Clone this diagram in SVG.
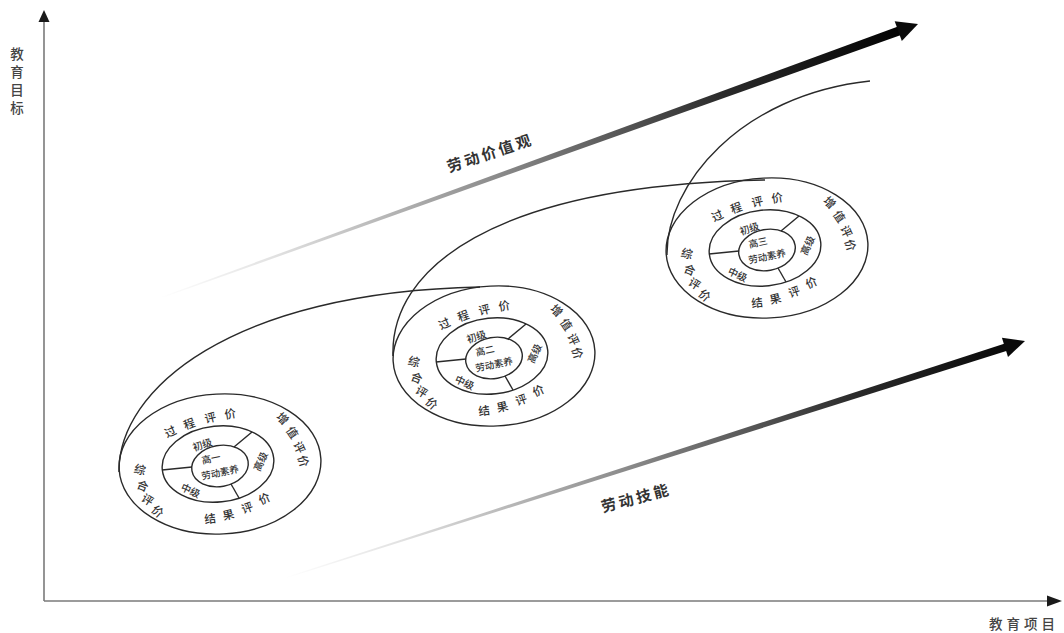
<svg xmlns="http://www.w3.org/2000/svg" width="1064" height="633" viewBox="0 0 1064 633">
<defs>
<linearGradient id="ag" gradientUnits="userSpaceOnUse" x1="0" y1="0" x2="800" y2="0">
<stop offset="0" stop-color="#ffffff"/>
<stop offset="0.15" stop-color="#e2e2e2"/>
<stop offset="0.45" stop-color="#8a8a8a"/>
<stop offset="0.75" stop-color="#2a2a2a"/>
<stop offset="1" stop-color="#000000"/>
</linearGradient>
</defs>
<style>
.ln{fill:none;stroke:#2a2a2a;stroke-width:1.4}
.ax{stroke:#7a7a7a;stroke-width:1.6;fill:none}
.t{font-family:"Noto Sans CJK SC","Noto Sans",sans-serif;fill:#333;text-anchor:middle;dominant-baseline:central;font-weight:500}
.r{font-size:11.5px}
.m{font-size:10px}
.i{font-size:9.5px}
.big{font-size:15px;fill:#333;letter-spacing:3px;font-weight:600}
.axl{font-size:13.5px;fill:#444}
</style>
<rect width="1064" height="633" fill="#ffffff"/>

<g id="axes">
<line class="ax" x1="44" y1="22" x2="44" y2="601"/>
<polygon points="44,10 38.5,22 49.5,22" fill="#1a1a1a"/>
<line class="ax" x1="44" y1="601" x2="1048" y2="601"/>
<polygon points="1062,601 1047,595.5 1047,606.5" fill="#1a1a1a"/>
<text class="t axl" x="17" y="53">教</text>
<text class="t axl" x="17" y="71">育</text>
<text class="t axl" x="17" y="89">目</text>
<text class="t axl" x="17" y="107">标</text>
<text class="t axl" x="1024" y="623" style="letter-spacing:4px">教育项目</text>
</g>

<g id="arrow-values">
<g transform="translate(160,298) rotate(-19.87)">
<polygon fill="url(#ag)" points="0,-0.6 790,-4.5 790,4.5 0,0.6"/>
<polygon fill="#0a0a0a" points="785,-10.5 806,0 785,10.5"/>
</g>
<text class="t big" x="490" y="152" transform="rotate(-18.5 490 152)">劳动价值观</text>
</g>

<g id="arrow-skills">
<g transform="translate(285,578) rotate(-17.76)">
<polygon fill="url(#ag)" points="0,-0.5 762,-3.8 762,3.8 0,0.5"/>
<polygon fill="#0a0a0a" points="756,-10 777,0 756,10"/>
</g>
<text class="t big" x="636" y="497" transform="rotate(-15 636 497)">劳动技能</text>
</g>

<g id="connectors">
<path class="ln" d="M119,472 C118,390 230,292 480,287"/>
<path class="ln" d="M393,356 C390,270 490,185 765,180"/>
<path class="ln" d="M667,255 C666,185 740,95 870,81"/>
</g>

<g id="grade1" transform="translate(220,464)">
<ellipse class="ln" cx="0" cy="0" rx="101" ry="70" transform="rotate(-3)"/>
<ellipse class="ln" cx="-2" cy="0" rx="56" ry="38" transform="rotate(-6 -2 0)"/>
<ellipse class="ln" cx="0" cy="2" rx="28.5" ry="20.5" transform="rotate(-10 0 2)"/>
<line class="ln" x1="-58" y1="6" x2="-28" y2="3"/>
<line class="ln" x1="32" y1="-32" x2="14" y2="-17"/>
<line class="ln" x1="11" y1="20" x2="19" y2="34"/>
<text class="t r" x="-50" y="-33" transform="rotate(-25 -50 -33)">过</text>
<text class="t r" x="-31" y="-41" transform="rotate(-20 -31 -41)">程</text>
<text class="t r" x="-10" y="-47" transform="rotate(-14 -10 -47)">评</text>
<text class="t r" x="10" y="-51" transform="rotate(-10 10 -51)">价</text>
<text class="t r" x="63" y="-46" transform="rotate(45 63 -46)">增</text>
<text class="t r" x="73" y="-32" transform="rotate(55 73 -32)">值</text>
<text class="t r" x="80" y="-17" transform="rotate(65 80 -17)">评</text>
<text class="t r" x="84" y="-3" transform="rotate(72 84 -3)">价</text>
<text class="t r" x="-10" y="54" transform="rotate(-8 -10 54)">结</text>
<text class="t r" x="8" y="50" transform="rotate(-14 8 50)">果</text>
<text class="t r" x="27" y="43" transform="rotate(-20 27 43)">评</text>
<text class="t r" x="44" y="34" transform="rotate(-26 44 34)">价</text>
<text class="t r" x="-80" y="5" transform="rotate(15 -80 5)">综</text>
<text class="t r" x="-77" y="21" transform="rotate(22 -77 21)">合</text>
<text class="t r" x="-72" y="35" transform="rotate(32 -72 35)">评</text>
<text class="t r" x="-62" y="47" transform="rotate(42 -62 47)">价</text>
<text class="t m" x="-18" y="-20" transform="rotate(-18 -18 -20)">初级</text>
<text class="t m" x="40" y="-3" transform="rotate(-65 40 -3)">高级</text>
<text class="t m" x="-29" y="26" transform="rotate(25 -29 26)">中级</text>
<text class="t i" x="-9" y="-6" transform="rotate(-12 -9 -6)">高一</text>
<text class="t i" x="0" y="8" transform="rotate(-12 0 8)">劳动素养</text>
</g>

<g id="grade2" transform="translate(494,356)">
<ellipse class="ln" cx="0" cy="0" rx="101" ry="70" transform="rotate(-3)"/>
<ellipse class="ln" cx="-2" cy="0" rx="56" ry="38" transform="rotate(-6 -2 0)"/>
<ellipse class="ln" cx="0" cy="2" rx="28.5" ry="20.5" transform="rotate(-10 0 2)"/>
<line class="ln" x1="-58" y1="6" x2="-28" y2="3"/>
<line class="ln" x1="32" y1="-32" x2="14" y2="-17"/>
<line class="ln" x1="11" y1="20" x2="19" y2="34"/>
<text class="t r" x="-50" y="-33" transform="rotate(-25 -50 -33)">过</text>
<text class="t r" x="-31" y="-41" transform="rotate(-20 -31 -41)">程</text>
<text class="t r" x="-10" y="-47" transform="rotate(-14 -10 -47)">评</text>
<text class="t r" x="10" y="-51" transform="rotate(-10 10 -51)">价</text>
<text class="t r" x="63" y="-46" transform="rotate(45 63 -46)">增</text>
<text class="t r" x="73" y="-32" transform="rotate(55 73 -32)">值</text>
<text class="t r" x="80" y="-17" transform="rotate(65 80 -17)">评</text>
<text class="t r" x="84" y="-3" transform="rotate(72 84 -3)">价</text>
<text class="t r" x="-10" y="54" transform="rotate(-8 -10 54)">结</text>
<text class="t r" x="8" y="50" transform="rotate(-14 8 50)">果</text>
<text class="t r" x="27" y="43" transform="rotate(-20 27 43)">评</text>
<text class="t r" x="44" y="34" transform="rotate(-26 44 34)">价</text>
<text class="t r" x="-80" y="5" transform="rotate(15 -80 5)">综</text>
<text class="t r" x="-77" y="21" transform="rotate(22 -77 21)">合</text>
<text class="t r" x="-72" y="35" transform="rotate(32 -72 35)">评</text>
<text class="t r" x="-62" y="47" transform="rotate(42 -62 47)">价</text>
<text class="t m" x="-18" y="-20" transform="rotate(-18 -18 -20)">初级</text>
<text class="t m" x="40" y="-3" transform="rotate(-65 40 -3)">高级</text>
<text class="t m" x="-29" y="26" transform="rotate(25 -29 26)">中级</text>
<text class="t i" x="-9" y="-6" transform="rotate(-12 -9 -6)">高二</text>
<text class="t i" x="0" y="8" transform="rotate(-12 0 8)">劳动素养</text>
</g>

<g id="grade3" transform="translate(767,248)">
<ellipse class="ln" cx="0" cy="0" rx="101" ry="70" transform="rotate(-3)"/>
<ellipse class="ln" cx="-2" cy="0" rx="56" ry="38" transform="rotate(-6 -2 0)"/>
<ellipse class="ln" cx="0" cy="2" rx="28.5" ry="20.5" transform="rotate(-10 0 2)"/>
<line class="ln" x1="-58" y1="6" x2="-28" y2="3"/>
<line class="ln" x1="32" y1="-32" x2="14" y2="-17"/>
<line class="ln" x1="11" y1="20" x2="19" y2="34"/>
<text class="t r" x="-50" y="-33" transform="rotate(-25 -50 -33)">过</text>
<text class="t r" x="-31" y="-41" transform="rotate(-20 -31 -41)">程</text>
<text class="t r" x="-10" y="-47" transform="rotate(-14 -10 -47)">评</text>
<text class="t r" x="10" y="-51" transform="rotate(-10 10 -51)">价</text>
<text class="t r" x="63" y="-46" transform="rotate(45 63 -46)">增</text>
<text class="t r" x="73" y="-32" transform="rotate(55 73 -32)">值</text>
<text class="t r" x="80" y="-17" transform="rotate(65 80 -17)">评</text>
<text class="t r" x="84" y="-3" transform="rotate(72 84 -3)">价</text>
<text class="t r" x="-10" y="54" transform="rotate(-8 -10 54)">结</text>
<text class="t r" x="8" y="50" transform="rotate(-14 8 50)">果</text>
<text class="t r" x="27" y="43" transform="rotate(-20 27 43)">评</text>
<text class="t r" x="44" y="34" transform="rotate(-26 44 34)">价</text>
<text class="t r" x="-80" y="5" transform="rotate(15 -80 5)">综</text>
<text class="t r" x="-77" y="21" transform="rotate(22 -77 21)">合</text>
<text class="t r" x="-72" y="35" transform="rotate(32 -72 35)">评</text>
<text class="t r" x="-62" y="47" transform="rotate(42 -62 47)">价</text>
<text class="t m" x="-18" y="-20" transform="rotate(-18 -18 -20)">初级</text>
<text class="t m" x="40" y="-3" transform="rotate(-65 40 -3)">高级</text>
<text class="t m" x="-29" y="26" transform="rotate(25 -29 26)">中级</text>
<text class="t i" x="-9" y="-6" transform="rotate(-12 -9 -6)">高三</text>
<text class="t i" x="0" y="8" transform="rotate(-12 0 8)">劳动素养</text>
</g>
</svg>
